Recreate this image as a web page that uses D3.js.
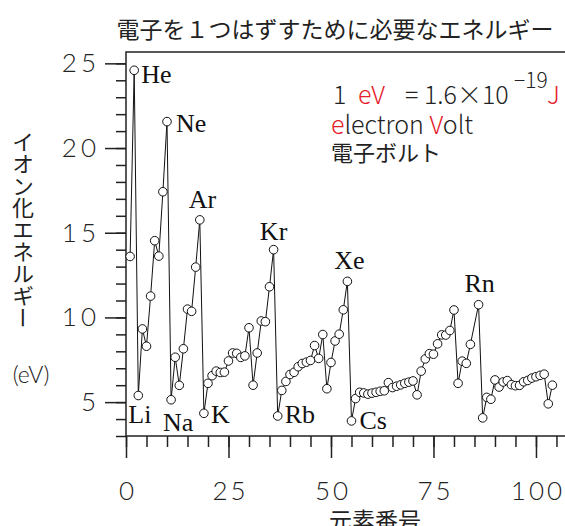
<!DOCTYPE html>
<html>
<head>
<meta charset="utf-8">
<script src="https://cdn.jsdelivr.net/npm/d3@7"></script>
<style>
  body { margin: 0; background: #fff; }
  svg { display: block; }
  text { font-family: "Noto Sans CJK JP", "Noto Sans", sans-serif; fill: #222; }
  .light { font-family: "Lato", "Noto Sans", sans-serif; font-weight: 300; }
  .tick text {
    font-family: "Lato", "Noto Sans", sans-serif;
    font-weight: 300;
    font-variant-numeric: tabular-nums;
  }
  .element-label { font-family: "Liberation Serif", "DejaVu Serif", serif; font-size: 26px; fill: #111; }
  .red { fill: #e5202b; }
</style>
</head>
<body>
<div id="wrapper"></div>
<script>
// atomic numbers (At, 85, has no point in the original)
const atomicNumbers = [
  1, 2, 3, 4, 5, 6, 7, 8, 9, 10,
  11, 12, 13, 14, 15, 16, 17, 18, 19, 20,
  21, 22, 23, 24, 25, 26, 27, 28, 29, 30,
  31, 32, 33, 34, 35, 36, 37, 38, 39, 40,
  41, 42, 43, 44, 45, 46, 47, 48, 49, 50,
  51, 52, 53, 54, 55, 56, 57, 58, 59, 60,
  61, 62, 63, 64, 65, 66, 67, 68, 69, 70,
  71, 72, 73, 74, 75, 76, 77, 78, 79, 80,
  81, 82, 83, 84, 86, 87, 88, 89, 90,
  91, 92, 93, 94, 95, 96, 97, 98, 99, 100,
  101, 102, 103, 104,
];

// first ionization energy (eV)
const ionizationEnergies = [
  13.6, 24.59, 5.39, 9.32, 8.3, 11.26, 14.53, 13.62, 17.42, 21.56,
  5.14, 7.65, 5.99, 8.15, 10.49, 10.36, 12.97, 15.76, 4.34, 6.11,
  6.56, 6.83, 6.75, 6.77, 7.43, 7.9, 7.88, 7.64, 7.73, 9.39,
  6.0, 7.9, 9.79, 9.75, 11.81, 14.0, 4.18, 5.69, 6.22, 6.63,
  6.76, 7.09, 7.28, 7.36, 7.46, 8.34, 7.58, 8.99, 5.79, 7.34,
  8.61, 9.01, 10.45, 12.13, 3.89, 5.21, 5.58, 5.54, 5.47, 5.53,
  5.58, 5.64, 5.67, 6.15, 5.86, 5.94, 6.02, 6.11, 6.18, 6.25,
  5.43, 6.83, 7.55, 7.86, 7.83, 8.44, 8.97, 8.96, 9.23, 10.44,
  6.11, 7.42, 7.29, 8.41, 10.75, 4.07, 5.28, 5.17, 6.31,
  5.89, 6.19, 6.27, 6.03, 5.97, 5.99, 6.2, 6.28, 6.42, 6.5,
  6.58, 6.65, 4.9, 6.0,
];

const labelSymbols = ["He", "Ne", "Ar", "Kr", "Xe", "Rn", "Li", "Na", "K", "Rb", "Cs"];
const labelNumbers = [2, 10, 18, 36, 54, 86, 3, 11, 19, 37, 55];

const xTickLabels = [0, 25, 50, 75, 100];
const yTickLabels = [5, 10, 15, 20, 25];

const titleText = "電子を１つはずすために必要なエネルギー";
const xAxisTitle = "元素番号";
const yAxisTitle = "イオン化エネルギー";
const yUnitText = "(eV)";

function drawChart() {
  const dataset = atomicNumbers.map((z, i) => ({ z, energy: ionizationEnergies[i] }));
  const xAccessor = (d) => d.z;
  const yAccessor = (d) => d.energy;

  //* dimensions
  const dimensions = {
    width: 565,
    height: 526,
    margin: { top: 52, right: -5, bottom: 90, left: 126 },
  };
  dimensions.boundedWidth =
    dimensions.width - dimensions.margin.left - dimensions.margin.right;
  dimensions.boundedHeight =
    dimensions.height - dimensions.margin.top - dimensions.margin.bottom;

  //* canvas
  const wrapper = d3
    .select("#wrapper")
    .append("svg")
    .attr("width", dimensions.width)
    .attr("height", dimensions.height);

  const bounds = wrapper
    .append("g")
    .attr("transform", `translate(${dimensions.margin.left},${dimensions.margin.top})`);

  //* scales
  const xScale = d3
    .scaleLinear()
    .domain([0, 108.3])
    .range([0, dimensions.boundedWidth]);

  const yScale = d3
    .scaleLinear()
    .domain([3, 25.67])
    .range([dimensions.boundedHeight, 0]);

  //* frame
  bounds
    .append("rect")
    .attr("width", dimensions.boundedWidth)
    .attr("height", dimensions.boundedHeight)
    .attr("fill", "none")
    .attr("stroke", "#222")
    .attr("stroke-width", 1.5);

  //* axes
  const xMinor = bounds
    .append("g")
    .attr("transform", `translate(0,${dimensions.boundedHeight})`)
    .call(d3.axisBottom(xScale).tickValues(d3.range(0, 106, 5)).tickSize(11).tickFormat(""));
  const xMajor = bounds
    .append("g")
    .attr("transform", `translate(0,${dimensions.boundedHeight})`)
    .call(d3.axisBottom(xScale).tickValues(xTickLabels).tickSize(22).tickPadding(24));

  const yMinor = bounds
    .append("g")
    .call(d3.axisLeft(yScale).tickValues(d3.range(3, 26, 1)).tickSize(10).tickFormat(""));
  const yMajor = bounds
    .append("g")
    .call(d3.axisLeft(yScale).tickValues(yTickLabels).tickSize(21).tickPadding(9));

  [xMinor, xMajor, yMinor, yMajor].forEach((axis) => {
    axis.select(".domain").remove();
    axis.selectAll(".tick line").attr("stroke", "#222").attr("stroke-width", 1.5);
    axis.selectAll(".tick text").attr("font-size", 26).attr("fill", "#333");
  });
  // wider digit spacing like the original; nudge for the trailing gap
  xMajor.selectAll(".tick text").style("letter-spacing", "3px").attr("dx", 1.5);
  yMajor.selectAll(".tick text").style("letter-spacing", "4px").attr("dx", 4);

  //* data
  const lineGenerator = d3
    .line()
    .x((d) => xScale(xAccessor(d)))
    .y((d) => yScale(yAccessor(d)));

  bounds
    .append("path")
    .attr("d", lineGenerator(dataset))
    .attr("fill", "none")
    .attr("stroke", "#111")
    .attr("stroke-width", 1);

  bounds
    .selectAll(".dot")
    .data(dataset)
    .join("circle")
    .attr("class", "dot")
    .attr("cx", (d) => xScale(xAccessor(d)))
    .attr("cy", (d) => yScale(yAccessor(d)))
    .attr("r", 4.3)
    .attr("fill", "#fff")
    .attr("stroke", "#111")
    .attr("stroke-width", 1);

  //* element labels
  const labelOffsets = {
    He: [7, 13, "start"],
    Ne: [9, 10, "start"],
    Ar: [-11, -12, "start"],
    Kr: [0, -10, "middle"],
    Xe: [2, -12, "middle"],
    Rn: [1, -13, "middle"],
    Li: [-10, 27, "start"],
    Na: [-8, 31, "start"],
    K: [7, 10, "start"],
    Rb: [7, 7, "start"],
    Cs: [8, 8, "start"],
  };

  labelSymbols.forEach((symbol, i) => {
    const d = dataset.find((p) => p.z === labelNumbers[i]);
    const [dx, dy, anchor] = labelOffsets[symbol];
    bounds
      .append("text")
      .attr("class", "element-label")
      .attr("x", xScale(xAccessor(d)) + dx)
      .attr("y", yScale(yAccessor(d)) + dy)
      .attr("text-anchor", anchor)
      .text(symbol);
  });

  //* titles
  wrapper
    .append("text")
    .attr("x", 335)
    .attr("y", 38)
    .attr("text-anchor", "middle")
    .attr("font-size", 23)
    .text(titleText);

  wrapper
    .append("text")
    .attr("x", 375)
    .attr("y", 529)
    .attr("text-anchor", "middle")
    .attr("font-size", 23)
    .text(xAxisTitle);

  wrapper
    .append("text")
    .attr("x", 23)
    .attr("y", 131)
    .attr("font-size", 22)
    .style("writing-mode", "vertical-rl")
    .style("text-orientation", "upright")
    .text(yAxisTitle);

  wrapper
    .append("text")
    .attr("class", "light")
    .attr("x", 31)
    .attr("y", 383)
    .attr("text-anchor", "middle")
    .attr("font-size", 23)
    .text(yUnitText);

  //* eV note, one text per piece
  const note = wrapper.append("g").attr("class", "light").attr("font-size", 25);
  const pieces = [
    { text: "1", x: 333, y: 104, red: false, size: 25 },
    { text: "eV", x: 358, y: 104, red: true, size: 25 },
    { text: "= 1.6×10", x: 405, y: 104, red: false, size: 25 },
    { text: "−19", x: 514, y: 88, red: false, size: 21 },
    { text: "J", x: 547, y: 104, red: true, size: 25 },
  ];
  note
    .selectAll(".piece")
    .data(pieces)
    .join("text")
    .attr("class", (d) => (d.red ? "piece red" : "piece"))
    .attr("x", (d) => d.x)
    .attr("y", (d) => d.y)
    .attr("font-size", (d) => d.size)
    .text((d) => d.text);

  const line2 = note.append("text").attr("x", 331).attr("y", 134);
  line2.append("tspan").attr("class", "red").text("e");
  line2.append("tspan").text("lectron ");
  line2.append("tspan").attr("class", "red").text("V");
  line2.append("tspan").text("olt");

  wrapper
    .append("text")
    .attr("x", 331)
    .attr("y", 161)
    .attr("font-size", 22)
    .text("電子ボルト");
}
drawChart();
</script>
</body>
</html>
